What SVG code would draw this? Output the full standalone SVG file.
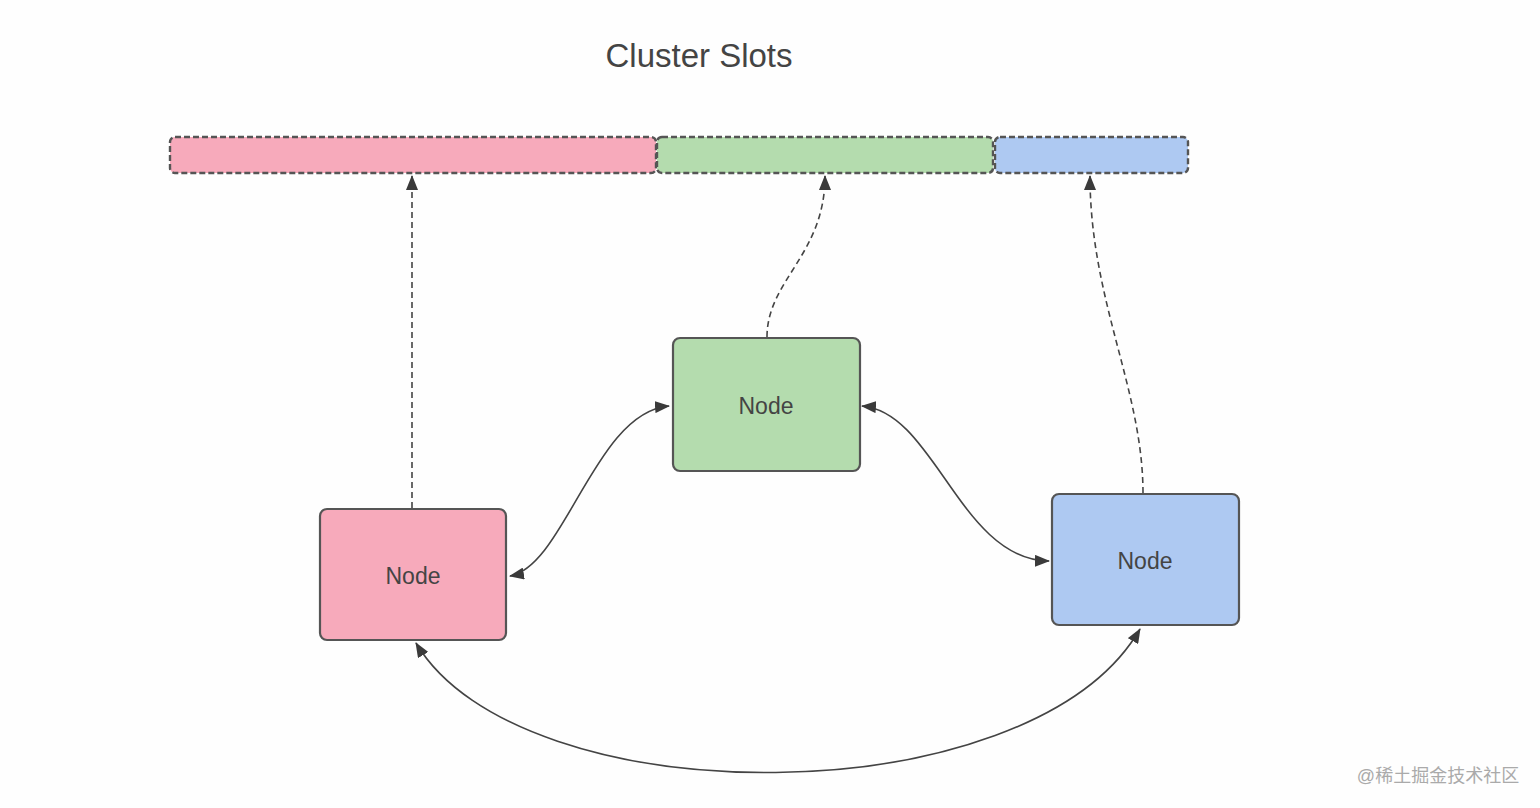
<svg xmlns="http://www.w3.org/2000/svg" width="1540" height="808" viewBox="0 0 1540 808">
<style>
.slot{stroke:#555;stroke-width:2.4;stroke-dasharray:6 3}
.node{stroke:#555;stroke-width:2.2}
.lbl{font-family:"Liberation Sans",Arial,sans-serif;font-size:23px;fill:#444;text-anchor:middle}
.dash{fill:none;stroke:#444;stroke-width:1.6;stroke-dasharray:6 4}
.solid{fill:none;stroke:#444;stroke-width:1.6}
</style>
<defs>
<marker id="ah" viewBox="0 0 15 12" refX="14" refY="6" markerWidth="15" markerHeight="12" markerUnits="userSpaceOnUse" orient="auto-start-reverse">
<path d="M0,0 L15,6 L0,12 Z" fill="#3a3a3a"/>
</marker>
</defs>
<rect width="1540" height="808" fill="#fefefe"/>
<text x="699" y="67" font-family="Liberation Sans,Arial,sans-serif" font-size="33" fill="#444" text-anchor="middle">Cluster Slots</text>
<g id="slots">
<rect class="slot" x="170" y="137" width="486" height="36" rx="5" fill="#f7aabb"/>
<rect class="slot" x="657" y="137" width="336" height="36" rx="5" fill="#b4dcae"/>
<rect class="slot" x="995" y="137" width="193" height="36" rx="5" fill="#aec9f2"/>
</g>
<g id="connectors">
<path class="dash" d="M412 508 L412 176" marker-end="url(#ah)"/>
<path class="dash" d="M767 337 C767 280 825 255 825 176" marker-end="url(#ah)"/>
<path class="dash" d="M1143 493 C1143 390 1090 300 1090 176" marker-end="url(#ah)"/>
<path class="solid" d="M510 576 C565 566 595 412 669 406" marker-start="url(#ah)" marker-end="url(#ah)"/>
<path class="solid" d="M862 406 C935 412 960 560 1049 561" marker-start="url(#ah)" marker-end="url(#ah)"/>
<path class="solid" d="M416 643 C520 818 1030 818 1140 629" marker-start="url(#ah)" marker-end="url(#ah)"/>
</g>
<g id="node-pink">
<rect class="node" x="320" y="509" width="186" height="131" rx="7" fill="#f7aabb"/>
<text class="lbl" x="413" y="584">Node</text>
</g>
<g id="node-green">
<rect class="node" x="673" y="338" width="187" height="133" rx="7" fill="#b4dcae"/>
<text class="lbl" x="766" y="414">Node</text>
</g>
<g id="node-blue">
<rect class="node" x="1052" y="494" width="187" height="131" rx="7" fill="#aec9f2"/>
<text class="lbl" x="1145" y="569">Node</text>
</g>
<text x="1438" y="782" font-family="Liberation Sans,'Noto Sans CJK SC',sans-serif" font-size="18" fill="#aaa" text-anchor="middle">@稀土掘金技术社区</text>
</svg>
